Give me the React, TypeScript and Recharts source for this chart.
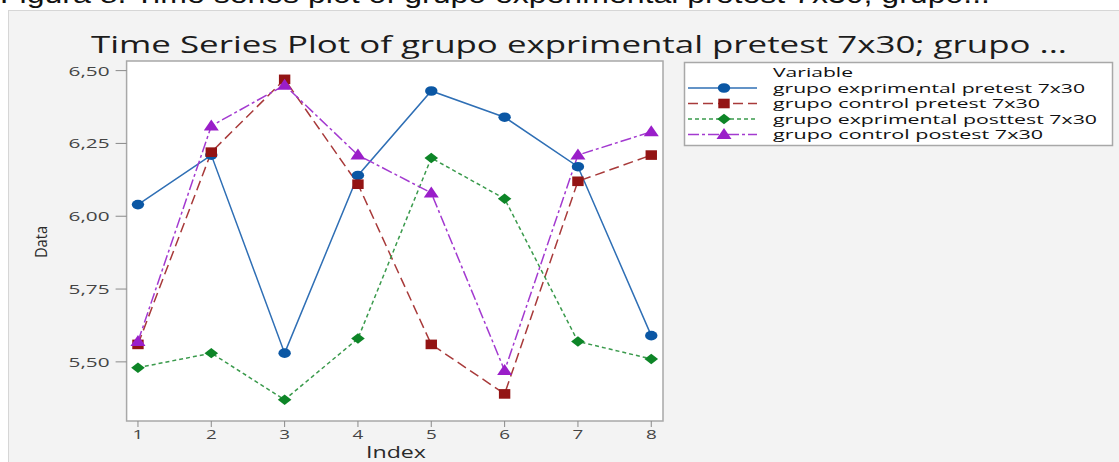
import React from 'react'
import { LineChart, Line, XAxis, YAxis, ReferenceArea } from 'recharts'

const indexes = [1, 2, 3, 4, 5, 6, 7, 8]
const expPretest = [6.04, 6.21, 5.53, 6.14, 6.43, 6.34, 6.17, 5.59]
const controlPretest = [5.56, 6.22, 6.47, 6.11, 5.56, 5.39, 6.12, 6.21]
const expPosttest = [5.48, 5.53, 5.37, 5.58, 6.2, 6.06, 5.57, 5.51]
const controlPostest = [5.57, 6.31, 6.45, 6.21, 6.08, 5.47, 6.21, 6.29]
const yTicks = [5.5, 5.75, 6.0, 6.25, 6.5]

const seriesNames = [
  'grupo exprimental pretest 7x30',
  'grupo control pretest 7x30',
  'grupo exprimental posttest 7x30',
  'grupo control postest 7x30',
]

const data = indexes.map((index, i) => ({
  index,
  expPre: expPretest[i],
  ctrlPre: controlPretest[i],
  expPost: expPosttest[i],
  ctrlPost: controlPostest[i],
}))

type Shape = 'circle' | 'square' | 'diamond' | 'triangle'

const series: { key: string; line: string; fill: string; dash?: string; shape: Shape }[] = [
  { key: 'expPre', line: '#2f6fb5', fill: '#0b57a4', shape: 'circle' },
  { key: 'ctrlPre', line: '#a83a3a', fill: '#931414', dash: '10 5', shape: 'square' },
  { key: 'expPost', line: '#3a9a4c', fill: '#0d8527', dash: '4 3', shape: 'diamond' },
  { key: 'ctrlPost', line: '#a33ad0', fill: '#9a1ec9', dash: '11 3 3 3', shape: 'triangle' },
]

const FONT = '"Open Sans", "Noto Sans", sans-serif'

function Marker({ cx, cy, shape, fill }: { cx: number; cy: number; shape: Shape; fill: string }) {
  if (shape === 'circle') return <ellipse cx={cx} cy={cy} rx={6.2} ry={4.8} fill={fill} />
  if (shape === 'square') return <rect x={cx - 5.7} y={cy - 4.8} width={11.4} height={9.6} fill={fill} />
  if (shape === 'diamond')
    return <polygon points={`${cx},${cy - 5.2} ${cx + 6.8},${cy} ${cx},${cy + 5.2} ${cx - 6.8},${cy}`} fill={fill} />
  return <polygon points={`${cx},${cy - 6.5} ${cx + 7.5},${cy + 4.5} ${cx - 7.5},${cy + 4.5}`} fill={fill} />
}

const dotFor = (shape: Shape, fill: string) => (p: any) => (
  <g key={`d-${p.index}`}>
    <Marker cx={p.cx} cy={p.cy} shape={shape} fill={fill} />
  </g>
)

const YTick = ({ x, y, payload }: any) => (
  <text x={x} y={y + 5} textAnchor="end" textLength={41} lengthAdjust="spacingAndGlyphs"
    fontFamily={FONT} fontSize={13} fill="#444">
    {payload.value.toFixed(2).replace('.', ',')}
  </text>
)

const XTick = ({ x, y, payload }: any) => (
  <text transform={`translate(${x},${y + 10}) scale(1.45,1)`} textAnchor="middle"
    fontFamily={FONT} fontSize={13} fill="#444">
    {payload.value}
  </text>
)

export default function App() {
  const rows = [72, 88, 103.5, 119, 134.5]
  const widths = [312, 267, 324, 270]
  return (
    <div style={{ position: 'fixed', left: 0, top: 0, width: 1119, height: 462, background: '#fff', overflow: 'hidden' }}>
      <div style={{ position: 'absolute', left: 8, top: 10, width: 1111, height: 452, background: '#f3f3f3',
        borderLeft: '1px solid #d6d6d6', borderTop: '1px solid #d6d6d6', boxSizing: 'border-box' }} />
      <div style={{ position: 'absolute', left: 0, top: 0 }}>
        <LineChart width={1119} height={462} data={data} margin={{ top: 61, right: 456, bottom: 11, left: 0 }}>
          <ReferenceArea x1={0.845} x2={8.16} y1={5.297} y2={6.533} fill="#ffffff" fillOpacity={1}
            stroke="#a8a8a8" strokeWidth={1.5} />
          <XAxis dataKey="index" type="number" domain={[0.845, 8.16]} ticks={indexes} allowDataOverflow
            axisLine={false} tickLine={{ stroke: '#8a8a8a' }} tickSize={6} height={30} tick={<XTick />} interval={0} />
          <YAxis type="number" domain={[5.297, 6.533]} ticks={yTicks} allowDataOverflow width={126.6}
            axisLine={false} tickLine={{ stroke: '#8a8a8a' }} tickSize={11} tickMargin={6} tick={<YTick />} interval={0} />
          {series.map((s) => (
            <Line key={s.key} dataKey={s.key} type="linear" stroke={s.line} strokeWidth={1.5}
              strokeDasharray={s.dash} dot={dotFor(s.shape, s.fill)} activeDot={false} isAnimationActive={false} />
          ))}
        </LineChart>
      </div>
      <svg width={1119} height={462} style={{ position: 'absolute', left: 0, top: 0, pointerEvents: 'none' }}>
        <text x={0} y={3} fontFamily='"Liberation Sans", Arial, sans-serif' fontSize={25} fill="#111"
          textLength={990} lengthAdjust="spacingAndGlyphs">
          Figura 8. Time series plot of grupo experimental pretest 7x30; grupo...
        </text>
        <text x={91} y={53} fontFamily={FONT} fontSize={24} fill="#1c1c1c" textLength={976} lengthAdjust="spacingAndGlyphs">
          Time Series Plot of grupo exprimental pretest 7x30; grupo ...
        </text>
        <text transform="translate(47,242) rotate(-90)" textAnchor="middle" fontFamily={FONT} fontSize={16}
          fill="#2a2a2a" textLength={32} lengthAdjust="spacingAndGlyphs">
          Data
        </text>
        <text x={366} y={458} fontFamily={FONT} fontSize={16} fill="#2a2a2a" textLength={60} lengthAdjust="spacingAndGlyphs">
          Index
        </text>
        <rect x={684.5} y={62.5} width={428} height={83} fill="#fff" stroke="#a8a8a8" strokeWidth={1.5} />
        <text x={773} y={rows[0] + 4.5} fontFamily={FONT} fontSize={13} fill="#111" textLength={80} lengthAdjust="spacingAndGlyphs">
          Variable
        </text>
        {series.map((s, i) => (
          <g key={s.key}>
            <line x1={688} x2={757} y1={rows[i + 1]} y2={rows[i + 1]} stroke={s.line} strokeWidth={1.5} strokeDasharray={s.dash} />
            <Marker cx={724} cy={rows[i + 1]} shape={s.shape} fill={s.fill} />
            <text x={773} y={rows[i + 1] + 4.5} fontFamily={FONT} fontSize={13} fill="#111"
              textLength={widths[i]} lengthAdjust="spacingAndGlyphs">
              {seriesNames[i]}
            </text>
          </g>
        ))}
      </svg>
    </div>
  )
}
